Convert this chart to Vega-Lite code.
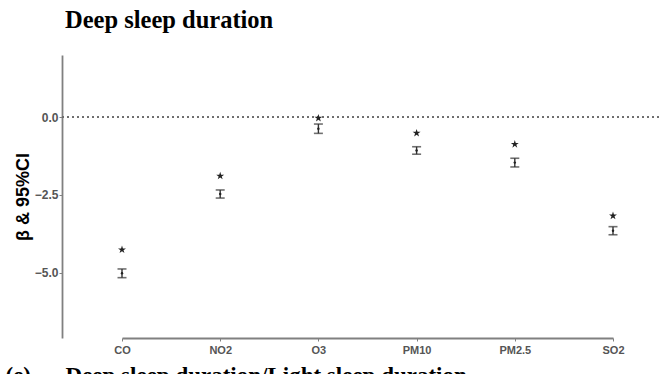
{
  "$schema": "https://vega.github.io/schema/vega-lite/v6.json",
  "autosize": {"type": "none"},
  "padding": {"left": 62, "top": 55, "right": 0, "bottom": 36},
  "width": 597,
  "height": 283,
  "background": "white",
  "title": {
    "text": "Deep sleep duration",
    "anchor": "start",
    "frame": "group",
    "dx": 3,
    "offset": 3,
    "baseline": "alphabetic",
    "font": "Liberation Serif",
    "fontSize": 24.5,
    "fontWeight": "bold",
    "color": "#000000"
  },
  "data": {
    "values": [
      {"pollutant": "CO", "beta": -5.02, "lower": -5.16, "upper": -4.88, "star": -4.26},
      {"pollutant": "NO2", "beta": -2.47, "lower": -2.6, "upper": -2.34, "star": -1.89},
      {"pollutant": "O3", "beta": -0.37, "lower": -0.52, "upper": -0.22, "star": -0.03},
      {"pollutant": "PM10", "beta": -1.07, "lower": -1.19, "upper": -0.95, "star": -0.51},
      {"pollutant": "PM2.5", "beta": -1.46, "lower": -1.6, "upper": -1.32, "star": -0.87},
      {"pollutant": "SO2", "beta": -3.65, "lower": -3.78, "upper": -3.52, "star": -3.17}
    ]
  },
  "config": {
    "view": {"stroke": null},
    "axis": {
      "grid": false,
      "domainColor": "#808080",
      "domainWidth": 1.8,
      "tickColor": "#808080",
      "tickSize": 3,
      "tickWidth": 1,
      "labelFont": "Liberation Sans",
      "labelFontWeight": "bold",
      "labelColor": "#555555",
      "titleFont": "Liberation Sans",
      "titleFontWeight": "bold",
      "titleColor": "#000000"
    }
  },
  "layer": [
    {
      "mark": {"type": "rule", "strokeDash": [2, 3], "color": "#6e6e6e", "strokeWidth": 1.3},
      "encoding": {"y": {"datum": 0}}
    },
    {
      "mark": {"type": "rule", "color": "#333333", "strokeWidth": 1.4},
      "encoding": {
        "x": {
          "field": "pollutant",
          "type": "nominal",
          "sort": null,
          "scale": {"type": "point", "range": [60, 551], "padding": 0},
          "axis": {
            "labelAngle": 0,
            "labelFontSize": 11,
            "labelPadding": 3,
            "title": "(e)\u00a0\u00a0\u00a0\u00a0\u00a0\u00a0Deep sleep duration/Light sleep duration",
            "titleFont": "Liberation Serif",
            "titleFontSize": 23,
            "titleAnchor": "start",
            "titleAlign": "left",
            "titleBaseline": "alphabetic",
            "titleX": -57,
            "titleY": 44
          }
        },
        "y": {
          "field": "lower",
          "type": "quantitative",
          "scale": {"domain": [-7.1, 2.0], "nice": false, "zero": false},
          "axis": {
            "values": [-5, -2.5, 0],
            "format": ".1f",
            "labelFontSize": 12,
            "labelPadding": 1,
            "title": "β & 95%CI",
            "titleFontSize": 18,
            "titlePadding": 2
          }
        },
        "y2": {"field": "upper"}
      }
    },
    {
      "mark": {"type": "tick", "color": "#333333", "size": 9, "thickness": 1.6, "orient": "horizontal"},
      "encoding": {
        "x": {"field": "pollutant", "type": "nominal", "sort": null},
        "y": {"field": "lower", "type": "quantitative"}
      }
    },
    {
      "mark": {"type": "tick", "color": "#333333", "size": 9, "thickness": 1.6, "orient": "horizontal"},
      "encoding": {
        "x": {"field": "pollutant", "type": "nominal", "sort": null},
        "y": {"field": "upper", "type": "quantitative"}
      }
    },
    {
      "mark": {"type": "point", "filled": true, "color": "#222222", "size": 6, "opacity": 1},
      "encoding": {
        "x": {"field": "pollutant", "type": "nominal", "sort": null},
        "y": {"field": "beta", "type": "quantitative"}
      }
    },
    {
      "mark": {
        "type": "point",
        "filled": true,
        "color": "#222222",
        "opacity": 1,
        "size": 70,
        "shape": "M0,-1L0.2245,-0.309L0.951,-0.309L0.363,0.118L0.588,0.809L0,0.382L-0.588,0.809L-0.363,0.118L-0.951,-0.309L-0.2245,-0.309Z"
      },
      "encoding": {
        "x": {"field": "pollutant", "type": "nominal", "sort": null},
        "y": {"field": "star", "type": "quantitative"}
      }
    }
  ]
}
